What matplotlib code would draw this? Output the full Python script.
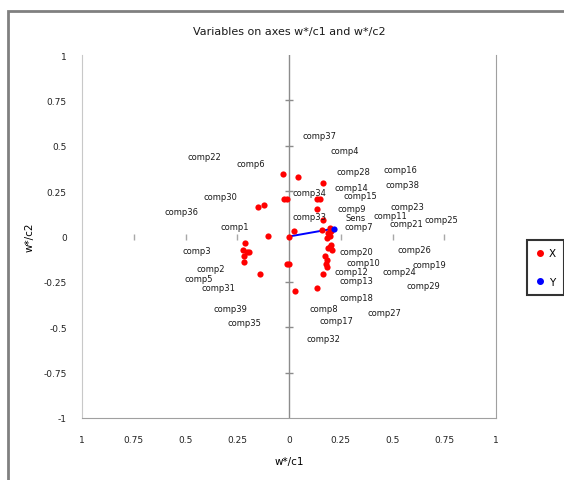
import matplotlib.pyplot as plt
import matplotlib.patches as mpatches
from matplotlib.lines import Line2D
import numpy as np

# X variables (w*/c1, w*/c2)
x_c1 = [0.0, -0.027, 0.045, 0.166, -0.025, -0.012, 0.136, 0.150, -0.148, -0.121,
        0.134, 0.166, 0.023, 0.158, 0.199, 0.190, 0.199, 0.182, -0.100, 0.203,
        0.197, 0.190, 0.206, 0.174, 0.182, 0.179, 0.182, 0.166, 0.134, 0.031,
        0.0, -0.010, -0.140, -0.213, -0.221, -0.205, -0.192, -0.217, -0.217, 0.205]
x_c2 = [0.0, 0.342, 0.329, 0.296, 0.208, 0.208, 0.208, 0.208, 0.160, 0.175,
        0.150, 0.090, 0.033, 0.037, 0.048, 0.020, 0.002, -0.006, 0.003, -0.045,
        -0.057, -0.066, -0.074, -0.105, -0.130, -0.154, -0.170, -0.206, -0.283, -0.301,
        -0.154, -0.154, -0.209, -0.035, -0.075, -0.086, -0.083, -0.105, -0.141, 0.030]

# Y variable
y_c1 = [0.219]
y_c2 = [0.044]

# labels and where they sit on the chart
names = ['comp37', 'comp4', 'comp22', 'comp6', 'comp16', 'comp28', 'comp38', 'comp14',
         'comp34', 'comp15', 'comp30', 'comp23', 'comp9', 'comp36', 'comp33', 'Sens',
         'comp11', 'comp25', 'comp21', 'comp7', 'comp1', 'comp3', 'comp20', 'comp26',
         'comp10', 'comp19', 'comp2', 'comp12', 'comp24', 'comp5', 'comp13', 'comp29',
         'comp31', 'comp18', 'comp39', 'comp8', 'comp27', 'comp17', 'comp35', 'comp32']
name_x = [0.145, 0.270, -0.410, -0.184, 0.536, 0.309, 0.550, 0.300,
          0.097, 0.343, -0.333, 0.570, 0.304, -0.517, 0.097, 0.322,
          0.490, 0.734, 0.565, 0.338, -0.260, -0.444, 0.324, 0.604,
          0.357, 0.676, -0.377, 0.300, 0.531, -0.435, 0.324, 0.647,
          -0.343, 0.324, -0.285, 0.169, 0.459, 0.227, -0.213, 0.164]
name_y = [0.556, 0.474, 0.440, 0.402, 0.369, 0.358, 0.287, 0.270,
          0.242, 0.226, 0.220, 0.165, 0.155, 0.138, 0.110, 0.105,
          0.113, 0.094, 0.070, 0.055, 0.055, -0.077, -0.083, -0.072,
          -0.143, -0.154, -0.176, -0.193, -0.193, -0.231, -0.242, -0.270,
          -0.281, -0.336, -0.397, -0.397, -0.419, -0.463, -0.474, -0.562]

ticks = [-1, -0.75, -0.5, -0.25, 0, 0.25, 0.5, 0.75, 1]
xtick_labels = ['1', '0.75', '0.5', '0.25', '0', '0.25', '0.5', '0.75', '1']
ytick_labels = ['-1', '-0.75', '-0.5', '-0.25', '0', '0.25', '0.5', '0.75', '1']

fig = plt.figure(figsize=(5.64, 4.81), dpi=100)
ax = fig.add_axes([82 / 564, 62 / 481, 414 / 564, 363 / 481])

# outer chart border (only top/left fall inside the picture)
fig.patches.append(mpatches.Rectangle((8 / 564, -0.1), 1.2, 0.1 + (481 - 12) / 481,
                                      transform=fig.transFigure, fill=False,
                                      edgecolor='#808080', lw=2))

ax.set_xlim(-1, 1)
ax.set_ylim(-1, 1)
ax.set_xticks(ticks)
ax.set_xticklabels(xtick_labels)
ax.set_yticks(ticks)
ax.set_yticklabels(ytick_labels)
ax.tick_params(length=0, labelsize=6.5, colors='#222222')
ax.tick_params(axis='x', pad=12)
ax.tick_params(axis='y', pad=11)

ax.spines['top'].set_visible(False)
ax.spines['left'].set_color('#c8c8c8')
ax.spines['right'].set_color('#a0a0a0')
ax.spines['bottom'].set_color('#a0a0a0')

# axes through the origin
ax.axvline(0, color='#8c8c8c', lw=1, zorder=1)
inner = [t for t in ticks if t not in (-1, 0, 1)]
ax.plot(np.zeros(len(inner)), inner, ls='none', marker='_', ms=6, mew=1, color='#8c8c8c', zorder=1)
ax.plot(inner, np.zeros(len(inner)), ls='none', marker='|', ms=5, mew=1, color='#a8a8a8', zorder=1)

# the Y vector
ax.plot([0, y_c1[0]], [0, y_c2[0]], color='#0000ff', lw=1.4, zorder=2)
ax.scatter(x_c1, x_c2, s=20, color='#ff0000', zorder=3, linewidths=0)
ax.scatter(y_c1, y_c2, s=20, color='#0000ff', zorder=4, linewidths=0)

for n, tx, ty in zip(names, name_x, name_y):
    ax.text(tx, ty, n, fontsize=6, ha='center', va='center', color='#1a1a1a', zorder=5)

fig.text(289 / 564, 1 - 32 / 481, 'Variables on axes w*/c1 and w*/c2',
         ha='center', va='center', fontsize=8, color='#1a1a1a')
fig.text(289 / 564, 1 - 462 / 481, 'w*/c1', ha='center', va='center', fontsize=7.5)
fig.text(30 / 564, 1 - 237 / 481, 'w*/c2', ha='center', va='center', fontsize=7.5, rotation=90)

handles = [Line2D([], [], ls='none', marker='o', ms=4, color='#ff0000', label='X'),
           Line2D([], [], ls='none', marker='o', ms=4, color='#0000ff', label='Y')]
leg = ax.legend(handles=handles, loc='upper left', bbox_to_anchor=(527 / 564, 1 - 241 / 481),
                bbox_transform=fig.transFigure, fontsize=7.5, frameon=True, fancybox=False,
                edgecolor='black', borderaxespad=0, borderpad=0.8, labelspacing=1.8,
                handlelength=0.8, handletextpad=0.5)
leg.get_frame().set_linewidth(1.5)

plt.savefig('out.png', dpi=100)
